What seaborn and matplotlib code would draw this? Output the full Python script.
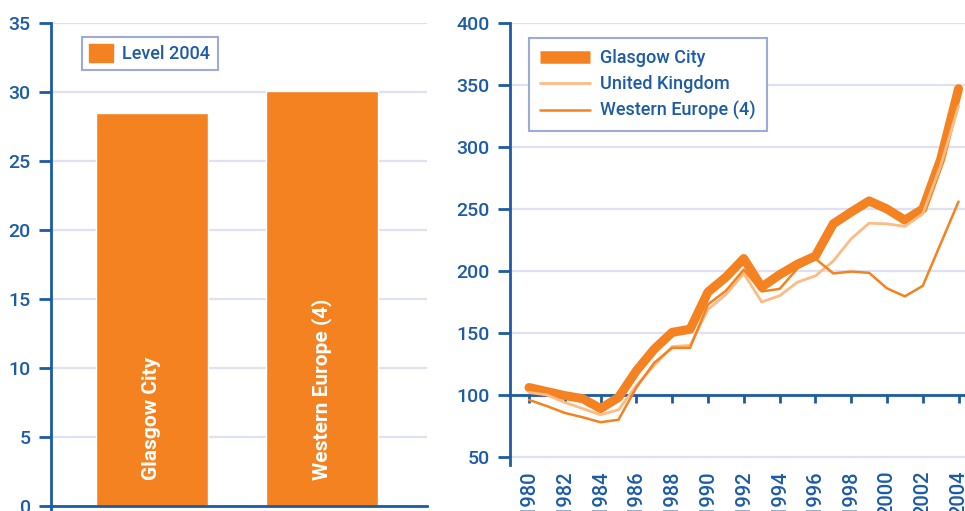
import matplotlib
matplotlib.use("Agg")
import matplotlib.pyplot as plt
from matplotlib.patches import Patch
import seaborn as sns

BLUE = "#1d5ba6"
GRID = "#dde1f2"
ORANGE = "#f58220"
LIGHT = "#fdbb85"
FRAME = "#9eabd8"

# left panel
regions = ["Glasgow City", "Western Europe (4)"]
level_2004 = [28.5, 30.1]

# right panel, index (1980 = 100)
years = list(range(1980, 2005))
glasgow = [106, 102.7, 99.5, 97, 89, 98, 119.5, 137, 150.5, 153, 183, 195, 210,
           187, 197, 205.5, 212, 238, 247.5, 256.5, 250, 241, 250, 290, 347]
uk = [102, 100, 94, 89, 84, 88, 107.5, 124, 139, 140, 169, 181, 198,
      175, 180, 191, 196, 208, 226, 238.5, 238, 236, 246, 285, 333]
west_eu = [96, 91, 85.5, 82, 78, 80, 106, 126, 138, 138, 173, 184, 201,
           183.5, 185.5, 202, 210, 198, 199.5, 198.5, 186, 179.5, 188, 222, 256]
year_ticks = years[::2]

sns.set_style("white")
plt.rcParams['font.family'] = ['Roboto', 'DejaVu Sans']
plt.rcParams['font.size'] = 13.5
plt.rcParams['font.weight'] = 'medium'

W, H = 965, 511
fig = plt.figure(figsize=(W / 100, H / 100), dpi=100)
ax1 = fig.add_axes([51 / W, 0, 376 / W, (H - 23) / H])
ax2 = fig.add_axes([510 / W, (H - 465) / H, 455 / W, (465 - 23) / H])


def style_axis(ax):
    ax.set_axisbelow(True)
    ax.grid(axis='y', color=GRID, linewidth=1.6)
    ax.grid(axis='x', visible=False)
    for s in ['top', 'right']:
        ax.spines[s].set_visible(False)
    for s in ['left', 'bottom']:
        ax.spines[s].set_color(BLUE)
        ax.spines[s].set_linewidth(2)
        ax.spines[s].set_zorder(1.5)
    ax.tick_params(axis='y', direction='out', length=8.5, width=2, color=BLUE,
                   labelcolor=BLUE, pad=6, left=True, labelsize=14)


# ---- bar chart
sns.barplot(x=regions, y=level_2004, color=ORANGE, saturation=1, width=0.66,
            ax=ax1)
style_axis(ax1)
ax1.set_ylim(-0.36, 35)
ax1.set_xlim(-0.594, 1.618)
ax1.set_yticks(range(0, 36, 5))
ax1.spines['bottom'].set_position(('data', 0))
ax1.set_xticks([])
ax1.set_xlabel("")
for i, name in enumerate(regions):
    ax1.text(i, 1.9, name, rotation=90, ha='center', va='bottom',
             color='white', fontweight='bold', fontsize=15)
leg1 = ax1.legend(handles=[Patch(color=ORANGE, label="Level 2004")],
                  loc='upper left', bbox_to_anchor=(0.082, 0.971),
                  borderaxespad=0, fancybox=False, framealpha=1,
                  edgecolor=FRAME, handlelength=1.3, handleheight=1.1,
                  handletextpad=0.55, borderpad=0.4, labelcolor=BLUE,
                  prop={'weight': 'medium', 'size': 13})
leg1.get_frame().set_linewidth(1.5)

# ---- line chart
sns.lineplot(x=years, y=glasgow, color=ORANGE, linewidth=6.5,
             label="Glasgow City", ax=ax2, zorder=3)
sns.lineplot(x=years, y=uk, color=LIGHT, linewidth=2,
             label="United Kingdom", ax=ax2, zorder=3)
sns.lineplot(x=years, y=west_eu, color=ORANGE, linewidth=1.8,
             label="Western Europe (4)", ax=ax2, zorder=3)
style_axis(ax2)
ax2.set_ylim(43.5, 400)
ax2.set_xlim(1978.94, 2004.36)
ax2.set_yticks(range(50, 401, 50))
ax2.spines['bottom'].set_position(('data', 100))
ax2.set_xticks(year_ticks)
ax2.tick_params(axis='x', direction='out', length=6, width=2, color=BLUE,
                labelbottom=False, bottom=True)
sec = ax2.secondary_xaxis(0)
sec.set_xticks(year_ticks)
sec.set_xticklabels([str(y) for y in year_ticks])
sec.tick_params(axis='x', length=0, pad=4, labelrotation=90, labelcolor=BLUE,
                labelsize=14.5)
sec.spines['bottom'].set_visible(False)

leg2 = ax2.legend(loc='upper left', bbox_to_anchor=(0.042, 0.966),
                  borderaxespad=0, fancybox=False, framealpha=1,
                  edgecolor=FRAME, handlelength=2.8, handletextpad=0.55,
                  borderpad=0.6, labelspacing=0.45, labelcolor=BLUE,
                  prop={'weight': 'medium', 'size': 13})
leg2.get_frame().set_linewidth(1.5)
leg2.get_lines()[0].set_linewidth(9)
leg2.get_lines()[0].set_solid_capstyle('butt')

fig.savefig("out.png", dpi=100)
